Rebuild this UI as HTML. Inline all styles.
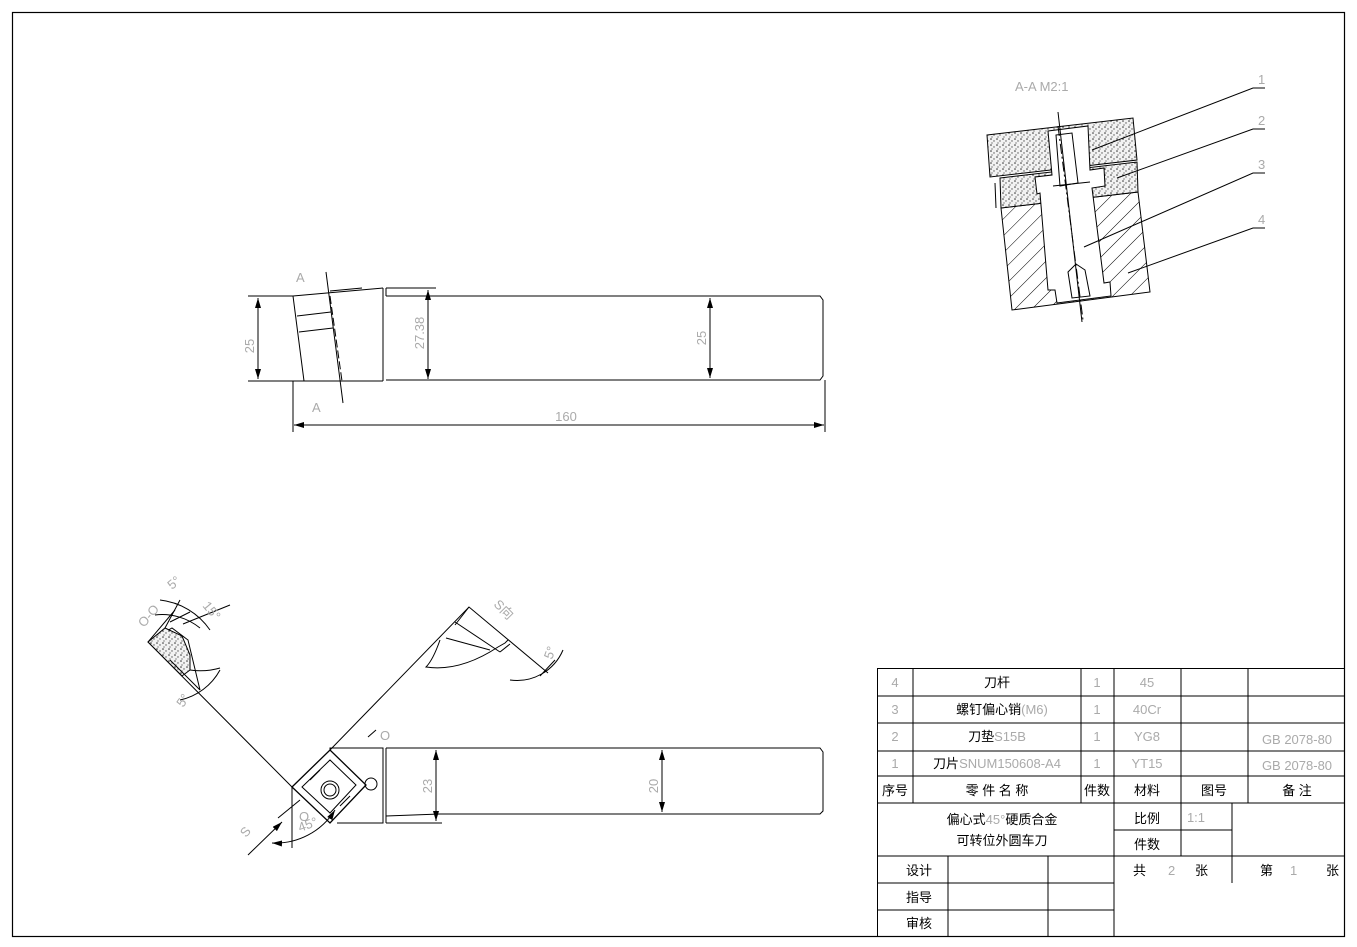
<!DOCTYPE html>
<html><head><meta charset="utf-8"><style>
html,body{margin:0;padding:0;background:#fff}
svg{display:block}
.t{font-family:"Liberation Sans","Noto Sans CJK SC",sans-serif;font-size:13px;fill:#000;stroke:none}
.g{font-family:"Liberation Sans",sans-serif;font-size:13px;fill:#aaa;stroke:none}
</style></head><body>
<svg width="1357" height="947" viewBox="0 0 1357 947" xmlns="http://www.w3.org/2000/svg" fill="none" stroke="#000" stroke-width="1">
<defs>
<marker id="ar" viewBox="0 0 10 6" refX="10" refY="3" markerWidth="10" markerHeight="6" orient="auto-start-reverse" markerUnits="userSpaceOnUse"><path d="M0,0 L10,3 L0,6z" fill="#000" stroke="none"/></marker>
<pattern id="hatch" width="12" height="12" patternUnits="userSpaceOnUse" patternTransform="rotate(45)"><line x1="0" y1="0" x2="0" y2="12" stroke="#000" stroke-width="1"/></pattern>
<pattern id="dots" width="6" height="6" patternUnits="userSpaceOnUse"><rect width="6" height="6" fill="#f2f2f2" stroke="none"/><circle cx="1" cy="1" r=".8" fill="#333" stroke="none"/><circle cx="4" cy="3" r=".7" fill="#555" stroke="none"/><circle cx="2" cy="5" r=".6" fill="#444" stroke="none"/></pattern>
</defs>
<rect x="12.5" y="12.5" width="1332" height="924" stroke-width="1.2"/>

<!-- TOP VIEW -->
<path d="M293,296 L383,288 M293,296 L304,381"/>
<path d="M297,316 L331,312 M299,332 L333,328"/>
<path d="M330,291 L362,288 M326,272 L343,403"/>
<line x1="330" y1="296" x2="342" y2="381" stroke-dasharray="8,3"/>
<path d="M383,288 L383,381 M386,288 L386,296"/>
<path d="M386,296 L820,296 L823,300 L823,376 L820,380 L386,380"/>
<path d="M248,296 L293,296 M248,381 L383,381 M386,288 L436,288"/>
<line x1="258" y1="298" x2="258" y2="379" marker-start="url(#ar)" marker-end="url(#ar)"/>
<line x1="428" y1="290" x2="428" y2="379" marker-start="url(#ar)" marker-end="url(#ar)"/>
<line x1="710" y1="298" x2="710" y2="378" marker-start="url(#ar)" marker-end="url(#ar)"/>
<path d="M293,381 L293,432 M825,380 L825,432"/>
<line x1="294" y1="425" x2="824" y2="425" marker-start="url(#ar)" marker-end="url(#ar)"/>
<text class="g" x="296" y="282">A</text>
<text class="g" x="312" y="412">A</text>
<text class="g" transform="translate(254,346) rotate(-90)" text-anchor="middle">25</text>
<text class="g" transform="translate(424,333) rotate(-90)" text-anchor="middle">27.38</text>
<text class="g" transform="translate(706,338) rotate(-90)" text-anchor="middle">25</text>
<text class="g" x="566" y="421" text-anchor="middle">160</text>

<!-- SECTION A-A -->
<text class="g" x="1015" y="91" font-size="14">A-A  M2:1</text>
<path d="M1001,208 L1138,192 L1150,292 L1012,310 Z" fill="url(#hatch)"/>
<path d="M987,135 L1133,118 L1137,160 L990,177 Z" fill="url(#dots)"/>
<path d="M1000,178 L1137,162 L1138,192 L1001,208 Z" fill="url(#dots)"/>
<path d="M1048,131 L1088,126 L1090,170 L1104,168 L1105,186 L1092,188 L1104,283 L1110,282 L1111,296 L1057,303 L1055,290 L1048,290 L1040,193 L1037,194 L1035,177 L1052,175 Z" fill="#fff"/>
<path d="M1056,135 L1072,133 L1078,183 L1060,186 Z" fill="#fff"/>
<path d="M1068,272 L1076,264 L1085,270 L1090,296 L1072,298 Z" fill="#fff"/>
<path d="M1053,186 L1090,182 M1058,112 L1082,322" />
<line x1="1058" y1="126" x2="1083" y2="320" stroke-dasharray="10,3,2,3"/>
<path d="M995,183 L996,208"/>
<path d="M1084,247 L1253,173 L1265,173 M1092,150 L1253,88 L1265,88 M1117,178 L1253,129 L1265,129 M1128,273 L1253,228 L1265,228"/>
<text class="g" x="1258" y="84">1</text><text class="g" x="1258" y="125">2</text><text class="g" x="1258" y="169">3</text><text class="g" x="1258" y="224">4</text>

<!-- BOTTOM VIEW -->
<path d="M292,787 L148,642 L175,610 M330,750 L469,607 L548,673"/>
<path d="M148,642 L172,628 L188,640 L200,690" />
<path d="M148,642 L165,628 L182,636 L190,655 L190,670 L182,676 Z" fill="url(#dots)"/>
<path d="M165,628 L180,600 M170,622 L190,612 M183,624 L230,605"/>
<path d="M155,615 A60,60 0 0 1 200,628 M160,600 A70,70 0 0 1 210,630"/>
<path d="M170,660 L200,690"/>
<path d="M190,670 A70,70 0 0 0 220,668" />
<path d="M180,700 A60,60 0 0 0 220,670"/>
<path d="M455,625 L469,607 M446,638 L490,650 M440,640 Q433,660 426,667 Q460,672 498,647 L505,643 L508,640"/>
<path d="M455,622 L500,652 M500,652 L510,644"/>
<path d="M510,680 A50,50 0 0 0 563,650"/>
<path d="M540,676 L555,660"/>
<text class="g" transform="translate(493,605) rotate(45)" font-size="14">S向</text>
<text class="g" transform="translate(552,660) rotate(-70)">5°</text>
<text class="g" transform="translate(144,628) rotate(-50)">O-O</text>
<text class="g" transform="translate(172,590) rotate(-40)">5°</text>
<text class="g" transform="translate(202,606) rotate(50)">15°</text>
<text class="g" transform="translate(183,708) rotate(-55)">5°</text>
<!-- insert -->
<path d="M292,787 L330,750 L366,785 L330,823 Z" stroke-width="1.3"/>
<path d="M302,787 L330,760 L356,785 L330,813 Z"/>
<circle cx="330" cy="790" r="9"/><circle cx="330" cy="790" r="6"/>
<circle cx="371" cy="784" r="6"/>
<path d="M310,780 L320,770 M340,806 L350,796"/>
<path d="M292,787 L292,848"/>
<path d="M278,818 L300,800"/>
<path d="M272,843 A70,70 0 0 0 335,810" marker-start="url(#ar)" marker-end="url(#ar)"/>
<line x1="248" y1="855" x2="282" y2="822" marker-end="url(#ar)"/>
<text class="g" transform="translate(246,838) rotate(-50)">S</text>
<text class="g" transform="translate(300,832) rotate(-20)" font-size="14">45°</text>
<text class="g" x="299" y="821">O</text>
<path d="M368,737 L376,730"/><text class="g" x="380" y="740">O</text>
<!-- shank -->
<path d="M330,750 L330,748 L383,748 L383,823 L337,823 M386,748 L386,823"/>
<path d="M386,748 L820,748 L823,752 L823,811 L820,814 L440,814 L386,816"/>
<path d="M386,823 L442,823"/>
<line x1="436" y1="750" x2="436" y2="821" marker-start="url(#ar)" marker-end="url(#ar)"/>
<line x1="662" y1="750" x2="662" y2="812" marker-start="url(#ar)" marker-end="url(#ar)"/>
<text class="g" transform="translate(432,786) rotate(-90)" text-anchor="middle">23</text>
<text class="g" transform="translate(658,786) rotate(-90)" text-anchor="middle">20</text>

<!-- TITLE BLOCK -->
<g stroke-width="1">
<rect x="877.5" y="668.5" width="467" height="268"/>
<path d="M877,696 H1345 M877,723 H1345 M877,751 H1345 M877,776 H1345 M877,803 H1345 M877,856 H1345 M877,883 H1114 M877,910 H1114 M1114,830 H1232"/>
<path d="M913,668 V803 M1081,668 V803 M1114,668 V937 M1181,668 V803 M1248,668 V803 M948,856 V937 M1048,856 V937 M1181,803 V856 M1232,803 V883"/>
</g>
<g stroke="none">
<text class="g" x="895" y="687" text-anchor="middle">4</text><text class="t" x="997" y="687" text-anchor="middle">刀杆</text><text class="g" x="1097" y="687" text-anchor="middle">1</text><text class="g" x="1147" y="687" text-anchor="middle">45</text>
<text class="g" x="895" y="714" text-anchor="middle">3</text><text class="t" x="1002" y="714" text-anchor="middle">螺钉偏心销<tspan fill="#aaa">(M6)</tspan></text><text class="g" x="1097" y="714" text-anchor="middle">1</text><text class="g" x="1147" y="714" text-anchor="middle">40Cr</text>
<text class="g" x="895" y="741" text-anchor="middle">2</text><text class="t" x="997" y="741" text-anchor="middle">刀垫<tspan fill="#aaa">S15B</tspan></text><text class="g" x="1097" y="741" text-anchor="middle">1</text><text class="g" x="1147" y="741" text-anchor="middle">YG8</text><text class="g" x="1297" y="744" text-anchor="middle">GB 2078-80</text>
<text class="g" x="895" y="768" text-anchor="middle">1</text><text class="t" x="997" y="768" text-anchor="middle">刀片<tspan fill="#aaa">SNUM150608-A4</tspan></text><text class="g" x="1097" y="768" text-anchor="middle">1</text><text class="g" x="1147" y="768" text-anchor="middle">YT15</text><text class="g" x="1297" y="770" text-anchor="middle">GB 2078-80</text>
<text class="t" x="895" y="795" text-anchor="middle">序号</text><text class="t" x="997" y="795" text-anchor="middle">零 件 名 称</text><text class="t" x="1097" y="795" text-anchor="middle">件数</text><text class="t" x="1147" y="795" text-anchor="middle">材料</text><text class="t" x="1214" y="795" text-anchor="middle">图号</text><text class="t" x="1297" y="795" text-anchor="middle">备  注</text>
<text class="t" x="1002" y="824" text-anchor="middle" font-size="15">偏心式<tspan fill="#aaa">45°</tspan>硬质合金</text>
<text class="t" x="1002" y="845" text-anchor="middle" font-size="15">可转位外圆车刀</text>
<text class="t" x="1147" y="823" text-anchor="middle">比例</text><text class="g" x="1196" y="822" text-anchor="middle">1:1</text>
<text class="t" x="1147" y="849" text-anchor="middle">件数</text>
<text class="t" x="1133" y="875">共</text><text class="g" x="1168" y="875">2</text><text class="t" x="1195" y="875">张</text>
<text class="t" x="1260" y="875">第</text><text class="g" x="1290" y="875">1</text><text class="t" x="1326" y="875">张</text>
<text class="t" x="919" y="875" text-anchor="middle">设计</text><text class="t" x="919" y="902" text-anchor="middle">指导</text><text class="t" x="919" y="928" text-anchor="middle">审核</text>
</g>
</svg>
</body></html>
